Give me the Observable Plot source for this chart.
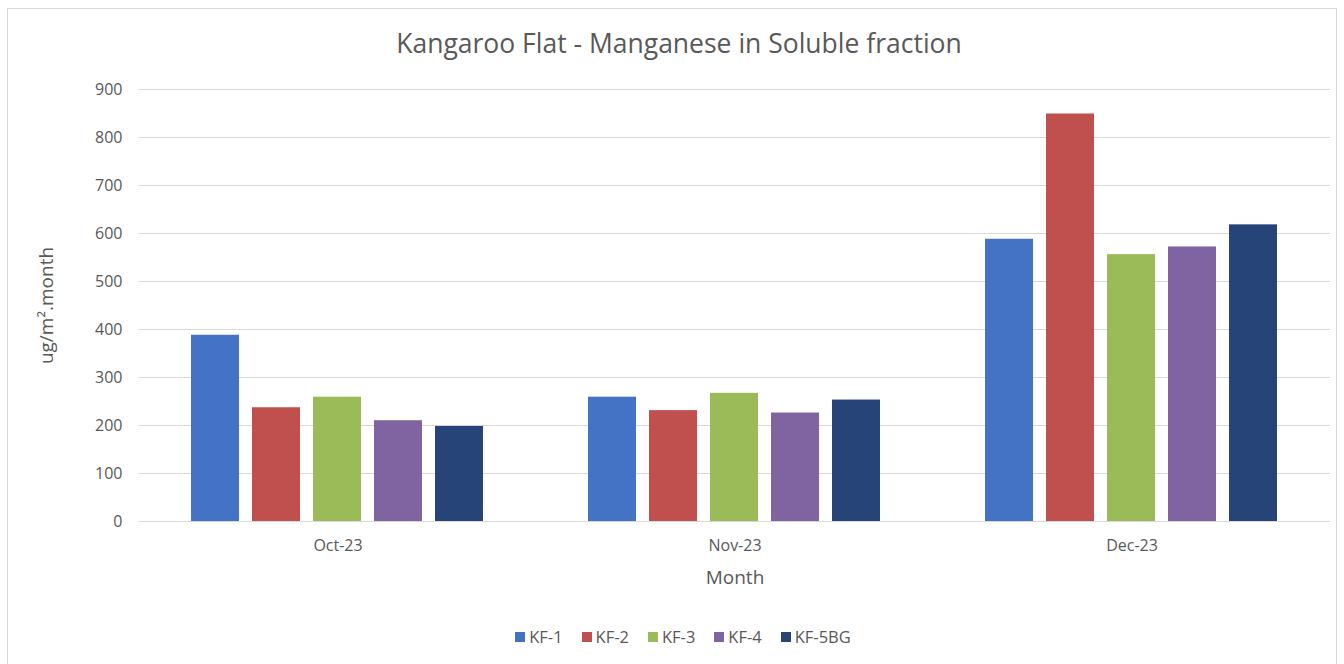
<!DOCTYPE html>
<html>
<head>
<meta charset="utf-8">
<script src="https://cdn.jsdelivr.net/npm/d3@7"></script>
<script src="https://cdn.jsdelivr.net/npm/@observablehq/plot@0.6"></script>
<style>
  html, body { margin: 0; padding: 0; background: #fff; }
  body { width: 1344px; height: 664px; position: relative; overflow: hidden; font-family: "Open Sans", sans-serif; }
  #frame { position: absolute; left: 7px; top: 8px; width: 1330px; height: 680px; border: 1px solid #d9d9d9; box-sizing: border-box; }
  #title { position: absolute; left: 7px; width: 1344px; top: 25px; text-align: center; font-size: 26.5px; color: #595959; }
  #chart { position: absolute; left: 0; top: 0; }
  #legend { position: absolute; top: 625px; left: 0; width: 1366px; display: flex; justify-content: center; gap: 19px; font-size: 16.5px; color: #595959; }
  #legend .item { display: flex; align-items: center; gap: 4px; }
  #legend .sw { width: 10px; height: 10px; display: inline-block; }
  g[aria-label="fx-axis label"] text { font-size: 19px; }
  g[aria-label="y-axis label"] text { font-size: 19px; }
</style>
</head>
<body>
<div id="frame"></div>
<div id="title">Kangaroo Flat - Manganese in Soluble fraction</div>
<div id="chart"></div>
<div id="legend"></div>
<script>
const months = ["Oct-23", "Nov-23", "Dec-23"];
const series = ["KF-1", "KF-2", "KF-3", "KF-4", "KF-5BG"];
const colors = ["#4472C4", "#C0504D", "#9BBB59", "#8064A2", "#264478"];
const kf1 = [388, 259, 588];
const kf2 = [237, 231, 849];
const kf3 = [259, 267, 556];
const kf4 = [210, 226, 572];
const kf5bg = [198, 253, 618];
const yTicks = [0, 100, 200, 300, 400, 500, 600, 700, 800, 900];

const valuesBySeries = [kf1, kf2, kf3, kf4, kf5bg];
const data = [];
months.forEach((m, i) => {
  series.forEach((s, j) => data.push({month: m, series: s, value: valuesBySeries[j][i]}));
});

const chart = Plot.plot({
  width: 1344,
  height: 600,
  marginTop: 89,
  marginBottom: 79,
  marginLeft: 139,
  marginRight: 14,
  style: {fontFamily: "Open Sans", fontSize: "16px", color: "#595959", background: "transparent"},
  fx: {domain: months, padding: 0, label: "Month", labelAnchor: "center", labelArrow: "none", labelOffset: 62, tickSize: 0, tickPadding: 18, axis: "bottom"},
  x: {domain: series, paddingInner: 0.21, paddingOuter: 0.85, axis: null},
  y: {domain: [0, 900], ticks: yTicks, label: "ug/m².month", labelAnchor: "center", labelArrow: "none", labelOffset: 100, tickSize: 0, tickPadding: 17},
  color: {domain: series, range: colors},
  marks: [
    Plot.gridY(yTicks, {stroke: "#d9d9d9", strokeOpacity: 1, strokeWidth: 1}),
    Plot.barY(data, {fx: "month", x: "series", y: "value", fill: "series"})
  ]
});
document.getElementById("chart").appendChild(chart);

const legend = document.getElementById("legend");
series.forEach((s, j) => {
  const item = document.createElement("div");
  item.className = "item";
  const sw = document.createElement("span");
  sw.className = "sw";
  sw.style.background = colors[j];
  const t = document.createElement("span");
  t.textContent = s;
  item.appendChild(sw);
  item.appendChild(t);
  legend.appendChild(item);
});
</script>
</body>
</html>
